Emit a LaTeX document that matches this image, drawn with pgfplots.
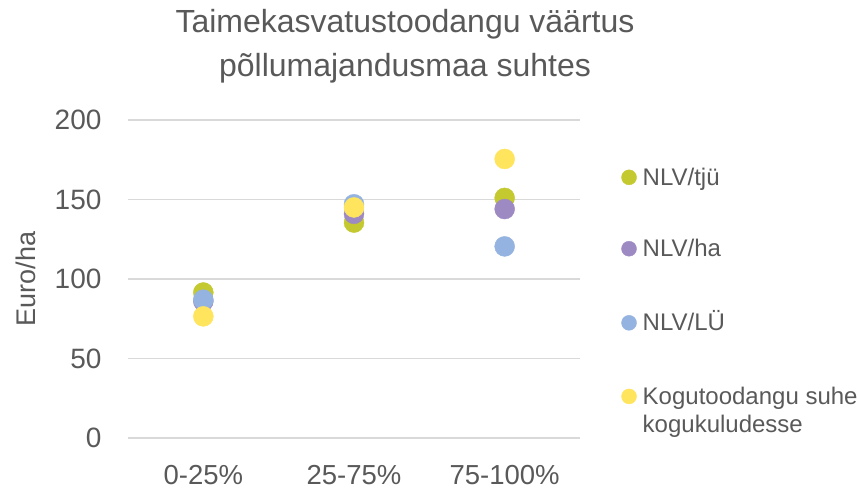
\documentclass[border=0pt]{standalone}
\usepackage{pgfplots}
\pgfplotsset{compat=1.18}
\usepackage{fontspec}
\setmainfont{Liberation Sans}
\definecolor{txt}{HTML}{595959}
\definecolor{gridc}{HTML}{D9D9D9}
\definecolor{cA}{HTML}{C3C92F}
\definecolor{cB}{HTML}{9E8AC3}
\definecolor{cC}{HTML}{95B3E0}
\definecolor{cD}{HTML}{FFE45E}
\begin{document}
\begin{tikzpicture}[x=1pt,y=1pt]
\path[use as bounding box] (-128,-54) rectangle (730,438);
\begin{axis}[
  at={(0,0)}, anchor=south west,
  scale only axis, width=452pt, height=318pt,
  xmin=-0.5, xmax=2.5, ymin=0, ymax=200,
  xtick={0,1,2}, xticklabels={0-25\%,25-75\%,75-100\%},
  ytick={0,50,100,150,200},
  axis line style={draw=none},
  major tick length=0pt,
  ymajorgrids, grid style={gridc, line width=1.2pt},
  tick label style={text=txt},
  yticklabel style={font=\fontsize{28}{32}\selectfont, xshift=-23pt},
  xticklabel style={font=\fontsize{27.5}{32}\selectfont, yshift=-24pt},
  /pgf/number format/assume math mode=true,
  clip=false,
  legend style={at={(1.091,0.853)}, anchor=north west, draw=none, fill=none,
    inner sep=0pt,
    font=\fontsize{24}{28}\selectfont, text=txt, row sep=50.5pt, column sep=5pt,
    cells={anchor=base west},
    nodes={inner sep=1pt}},
  legend image code/.code={\fill (0pt,8pt) circle (7.5pt);},
]
\addplot[only marks, mark=*, mark size=10pt, cA, mark options={draw=none, fill=cA}] coordinates {(0,91.5) (1,135.5) (2,151)};
\addlegendentry{NLV/tjü}
\addplot[only marks, mark=*, mark size=10pt, cB, mark options={draw=none, fill=cB}] coordinates {(0,86) (1,141) (2,144)};
\addlegendentry{NLV/ha}
\addplot[only marks, mark=*, mark size=10pt, cC, mark options={draw=none, fill=cC}] coordinates {(0,87) (1,147) (2,120.5)};
\addlegendentry{NLV/LÜ}
\addplot[only marks, mark=*, mark size=10pt, cD, mark options={draw=none, fill=cD}] coordinates {(0,76.5) (1,145) (2,175.5)};
\addlegendentry{\begin{tabular}[t]{@{}l@{}}Kogutoodangu suhe\\kogukuludesse\end{tabular}}
\end{axis}
\node[text=txt, font=\fontsize{32}{44}\selectfont, align=center] at (277,392) {Taimekasvatustoodangu väärtus\\põllumajandusmaa suhtes};
\node[text=txt, font=\fontsize{27}{30}\selectfont, rotate=90] at (-102,159) {Euro/ha};
\end{tikzpicture}
\end{document}
